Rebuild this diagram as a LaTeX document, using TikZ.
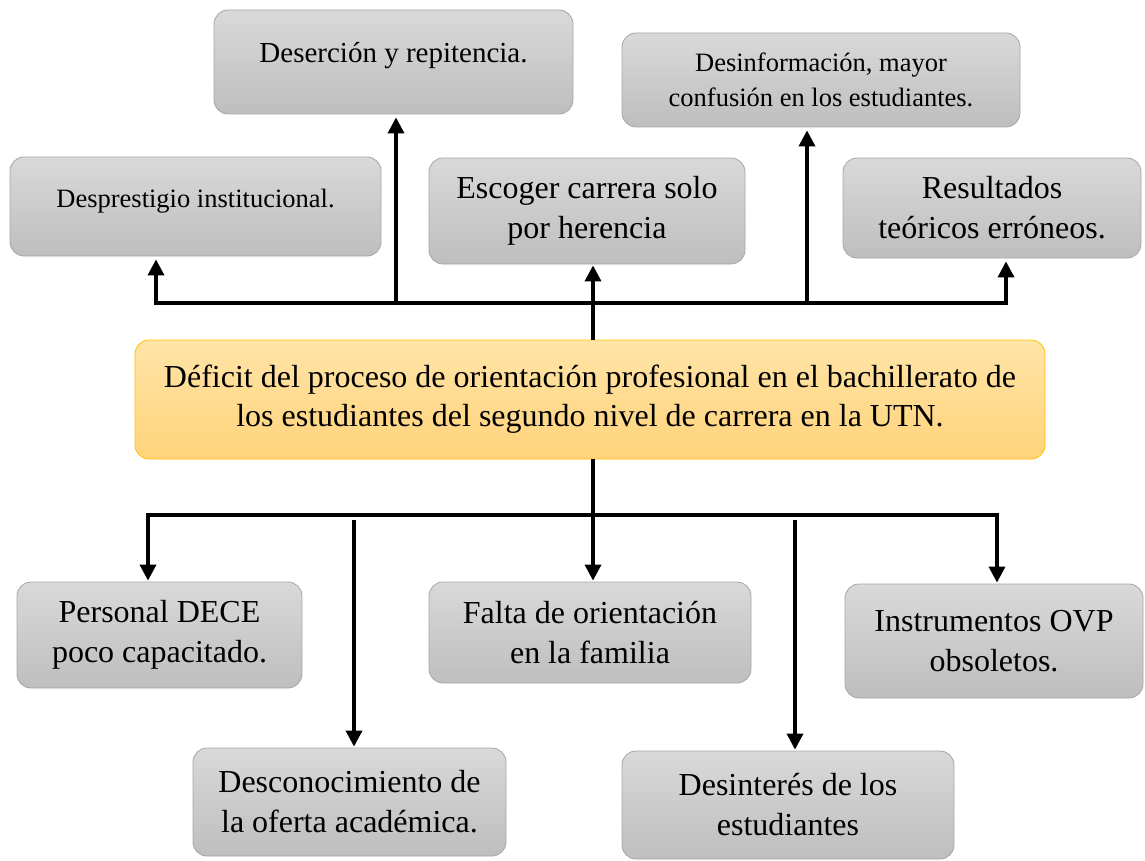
\documentclass[tikz,border=0pt]{standalone}
\usepackage{fontspec}
\setmainfont{Liberation Serif}
\usetikzlibrary{arrows.meta,calc,positioning}

\definecolor{grisarriba}{HTML}{D9D9D9}
\definecolor{grisabajo}{HTML}{BEBEBE}
\definecolor{grisborde}{HTML}{A6A6A6}
\definecolor{naranjaarriba}{HTML}{FFE4A8}
\definecolor{naranjaabajo}{HTML}{FFD37A}
\definecolor{naranjaborde}{HTML}{FFC000}

\begin{document}
\begin{tikzpicture}[x=1pt, y=-1pt,
    caja/.style = {align=center, inner sep=0pt, rounded corners=14pt, draw=grisborde, line width=0.8pt,
        top color=grisarriba, bottom color=grisabajo, font=\fontsize{32}{40}\selectfont},
    chica/.style = {caja, font=\fontsize{26.5}{35}\selectfont},
    central/.style = {caja, draw=naranjaborde, top color=naranjaarriba, bottom color=naranjaabajo,
        font=\fontsize{32}{39}\selectfont},
    flecha/.style = {line width=3.5pt, line join=miter, -{Triangle[length=16pt, width=16pt]}, shorten >=3pt},
    doble/.style = {flecha, {Triangle[length=16pt, width=16pt]}-{Triangle[length=16pt, width=16pt]}, shorten <=3pt}]
  \useasboundingbox (0,0) rectangle (1145,861);

  % efectos
  \node [caja, minimum width=359pt, minimum height=104pt, text depth=20pt, font=\fontsize{29}{35}\selectfont]
      (nodedes) at (393.5,62) {Deserción y repitencia.};
  \node [chica, minimum width=371pt, minimum height=99pt, text depth=16pt]
      (nodepres) at (195.5,206.5) {Desprestigio institucional.};
  \node [caja, minimum width=316pt, minimum height=106pt]
      (nodeesc) at (587,211) {Escoger carrera solo\\por herencia};
  \node [chica, minimum width=398pt, minimum height=94pt]
      (nodeinf) at (821,80) {Desinformación, mayor\\confusión en los estudiantes.};
  \node [caja, minimum width=298pt, minimum height=100pt]
      (noderes) at (992,208) {Resultados\\teóricos erróneos.};

  % problema
  \node [central, minimum width=910pt, minimum height=119pt]
      (nodedef) at (590,399.5) {Déficit del proceso de orientación profesional en el bachillerato de\\los estudiantes del segundo nivel de carrera en la UTN.};

  % causas
  \node [caja, minimum width=285pt, minimum height=106pt]
      (nodeper) at (159.5,635) {Personal DECE\\poco capacitado.};
  \node [caja, minimum width=322pt, minimum height=101pt]
      (nodefal) at (590,632.5) {Falta de orientación\\en la familia};
  \node [caja, minimum width=298pt, minimum height=114pt]
      (nodeins) at (994,641) {Instrumentos OVP\\obsoletos.};
  \node [caja, minimum width=313pt, minimum height=108pt]
      (nodecon) at (349.5,802) {Desconocimiento de\\la oferta académica.};
  \node [caja, minimum width=332pt, minimum height=108pt]
      (nodeint) at (788,805) {Desinterés de los\\estudiantes};

  \coordinate (arribac) at (593,303);
  \coordinate (arribai) at (156,303);
  \coordinate (arribad) at (1006,303);
  \coordinate (arriba1) at (396,303);
  \coordinate (arriba2) at (807,303);
  \coordinate (abajoc) at (593,515);
  \coordinate (abajoi) at (148,515);
  \coordinate (abajod) at (997,515);
  \coordinate (abajo1) at (354,520);
  \coordinate (abajo2) at (795,520);

  \draw [flecha, shorten >=1pt] (nodedef.north -| arribac) -- (nodeesc.south -| arribac);
  \draw [doble] (arribai |- nodepres.south) -- (arribai) -- (arribad) -- (arribad |- noderes.south);
  \draw [flecha] (arriba1) -- (arriba1 |- nodedes.south);
  \draw [flecha] (arriba2) -- (arriba2 |- nodeinf.south);

  \draw [flecha, shorten >=1pt] (nodedef.south -| abajoc) -- (nodefal.north -| abajoc);
  \draw [doble, shorten >=1pt, shorten <=1pt] (abajoi |- nodeper.north) -- (abajoi) -- (abajod) -- (abajod |- nodeins.north);
  \draw [flecha, shorten >=1pt] (abajo1) -- (abajo1 |- nodecon.north);
  \draw [flecha, shorten >=1pt] (abajo2) -- (abajo2 |- nodeint.north);
\end{tikzpicture}
\end{document}
